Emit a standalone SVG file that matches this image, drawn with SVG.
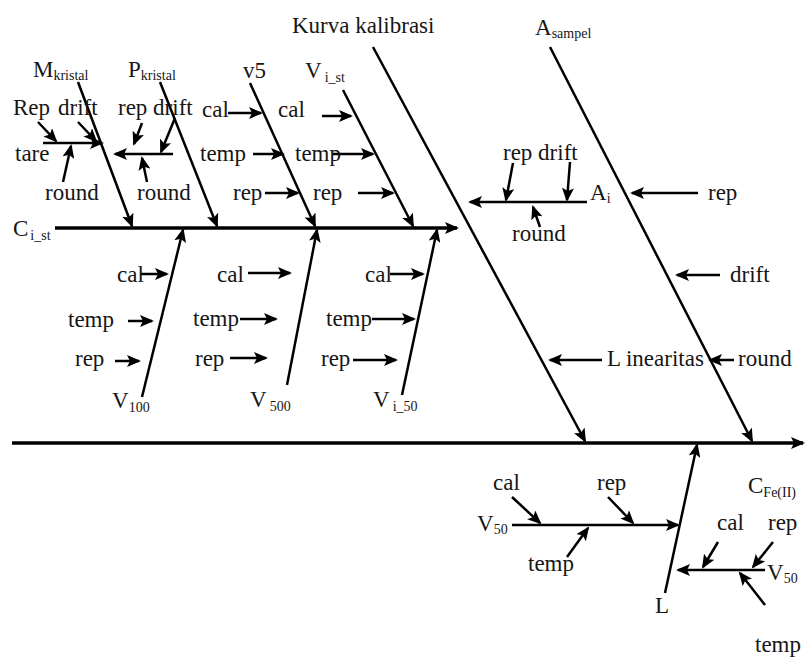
<svg xmlns="http://www.w3.org/2000/svg" width="805" height="657" viewBox="0 0 805 657">
  <style>
    text { font-family: "Liberation Serif", "Times New Roman", serif; fill: #161616; font-size: 23px; }
    .sub { font-size: 14px; }
    .ln { stroke: #000; stroke-width: 2.5; fill: none; }
    .spine { stroke: #000; stroke-width: 3.5; fill: none; }
    .arr { marker-end: url(#head); }
  </style>
  <defs>
    <marker id="head" markerUnits="userSpaceOnUse" markerWidth="14" markerHeight="12" viewBox="0 0 14 12" refX="12" refY="6" orient="auto">
      <path d="M0,0 L14,6 L0,12 L3,6 z" fill="#000"/>
    </marker>
  </defs>
  <rect width="805" height="657" fill="#fff"/>

  <!-- connectors -->
  <g id="connectors">
    <!-- main spine -->
    <line class="spine arr" x1="12" y1="443" x2="803" y2="443"/>
    <!-- major causes into the spine -->
    <line class="ln arr" x1="373" y1="47" x2="585" y2="441"/>
    <line class="ln arr" x1="550" y1="47" x2="752" y2="441"/>
    <line class="ln arr" x1="665" y1="593" x2="697" y2="445"/>

    <!-- C_i_st branch -->
    <line class="spine arr" x1="55" y1="228" x2="457" y2="228"/>
    <line class="ln arr" x1="78" y1="82" x2="132" y2="226"/>
    <line class="ln arr" x1="160" y1="82" x2="217" y2="226"/>
    <line class="ln arr" x1="250" y1="83" x2="315" y2="226"/>
    <line class="ln arr" x1="343" y1="90" x2="413" y2="226"/>
    <line class="ln arr" x1="142" y1="397" x2="183" y2="230"/>
    <line class="ln arr" x1="287" y1="385" x2="317" y2="230"/>
    <line class="ln arr" x1="402" y1="395" x2="437" y2="230"/>

    <!-- M_kristal sub-branch -->
    <line class="ln arr" x1="43" y1="143" x2="102" y2="143"/>
    <line class="ln arr" x1="38" y1="122" x2="56" y2="141"/>
    <line class="ln arr" x1="78" y1="122" x2="96" y2="141"/>
    <line class="ln arr" x1="63" y1="182" x2="71" y2="146"/>

    <!-- P_kristal sub-branch -->
    <line class="ln arr" x1="173" y1="154" x2="115" y2="154"/>
    <line class="ln arr" x1="142" y1="123" x2="134" y2="144"/>
    <line class="ln arr" x1="175" y1="118" x2="161" y2="152"/>
    <line class="ln arr" x1="147" y1="182" x2="142" y2="158"/>

    <!-- v5 inputs -->
    <line class="ln arr" x1="228" y1="113" x2="261" y2="113"/>
    <line class="ln arr" x1="253" y1="154" x2="283" y2="154"/>
    <line class="ln arr" x1="265" y1="193" x2="298" y2="193"/>

    <!-- V_i_st inputs -->
    <line class="ln arr" x1="322" y1="116" x2="351" y2="116"/>
    <line class="ln arr" x1="332" y1="154" x2="373" y2="154"/>
    <line class="ln arr" x1="358" y1="193" x2="393" y2="193"/>

    <!-- V100 inputs -->
    <line class="ln arr" x1="140" y1="274" x2="167" y2="274"/>
    <line class="ln arr" x1="128" y1="321" x2="152" y2="321"/>
    <line class="ln arr" x1="115" y1="361" x2="139" y2="361"/>

    <!-- V500 inputs -->
    <line class="ln arr" x1="248" y1="273" x2="290" y2="273"/>
    <line class="ln arr" x1="240" y1="319" x2="276" y2="319"/>
    <line class="ln arr" x1="230" y1="358" x2="266" y2="358"/>

    <!-- V_i_50 inputs -->
    <line class="ln arr" x1="390" y1="274" x2="423" y2="274"/>
    <line class="ln arr" x1="372" y1="319" x2="414" y2="319"/>
    <line class="ln arr" x1="353" y1="360" x2="396" y2="360"/>

    <!-- A_i sub-branch -->
    <line class="ln arr" x1="587" y1="202" x2="470" y2="202"/>
    <line class="ln arr" x1="513" y1="163" x2="506" y2="200"/>
    <line class="ln arr" x1="570" y1="162" x2="567" y2="200"/>
    <line class="ln arr" x1="540" y1="227" x2="533" y2="207"/>

    <!-- A_sampel inputs -->
    <line class="ln arr" x1="698" y1="193" x2="632" y2="193"/>
    <line class="ln arr" x1="720" y1="275" x2="677" y2="275"/>
    <line class="ln arr" x1="734" y1="360" x2="710" y2="360"/>
    <!-- Linearitas into Kurva kalibrasi -->
    <line class="ln arr" x1="602" y1="360" x2="550" y2="360"/>

    <!-- L: V50 branch (left) -->
    <line class="ln arr" x1="512" y1="525" x2="678" y2="525"/>
    <line class="ln arr" x1="512" y1="497" x2="540" y2="523"/>
    <line class="ln arr" x1="608" y1="497" x2="633" y2="523"/>
    <line class="ln arr" x1="567" y1="557" x2="588" y2="528"/>

    <!-- L: V50 branch (right) -->
    <line class="ln arr" x1="765" y1="570" x2="678" y2="570"/>
    <line class="ln arr" x1="718" y1="542" x2="703" y2="567"/>
    <line class="ln arr" x1="773" y1="542" x2="753" y2="567"/>
    <line class="ln arr" x1="765" y1="605" x2="740" y2="573"/>
  </g>

  <!-- nodes -->
  <g id="kurva"><text x="292" y="33">Kurva kalibrasi</text></g>
  <g id="a-sampel"><text x="535" y="35">A<tspan class="sub" dy="3">sampel</tspan></text></g>
  <g id="m-kristal"><text x="33" y="77">M<tspan class="sub" dy="3">kristal</tspan></text></g>
  <g id="p-kristal"><text x="128" y="77">P<tspan class="sub" dy="3">kristal</tspan></text></g>
  <g id="v5"><text x="243" y="78">v5</text></g>
  <g id="v-i-st"><text x="305" y="78">V<tspan class="sub" dy="4" dx="3">i_st</tspan></text></g>
  <g id="c-i-st"><text x="13" y="236">C<tspan class="sub" dy="4" dx="2">i_st</tspan></text></g>

  <g id="m-causes">
    <text x="13" y="115">Rep</text>
    <text x="58" y="115">drift</text>
    <text x="15" y="161">tare</text>
    <text x="45" y="200">round</text>
  </g>
  <g id="p-causes">
    <text x="118" y="115">rep drift</text>
    <text x="137" y="200">round</text>
  </g>
  <g id="v5-causes">
    <text x="202" y="117">cal</text>
    <text x="200" y="161">temp</text>
    <text x="233" y="200">rep</text>
  </g>
  <g id="v-i-st-causes">
    <text x="278" y="117">cal</text>
    <text x="295" y="161">temp</text>
    <text x="313" y="200">rep</text>
  </g>

  <g id="v100">
    <text x="112" y="408">V<tspan class="sub" dy="4">100</tspan></text>
    <text x="117" y="282">cal</text>
    <text x="68" y="327">temp</text>
    <text x="75" y="366">rep</text>
  </g>
  <g id="v500">
    <text x="250" y="407">V<tspan class="sub" dy="4" dx="3">500</tspan></text>
    <text x="217" y="282">cal</text>
    <text x="193" y="326">temp</text>
    <text x="195" y="366">rep</text>
  </g>
  <g id="v-i-50">
    <text x="373" y="407">V<tspan class="sub" dy="4" dx="3">i_50</tspan></text>
    <text x="365" y="282">cal</text>
    <text x="326" y="326">temp</text>
    <text x="321" y="366">rep</text>
  </g>

  <g id="a-i">
    <text x="590" y="200">A<tspan class="sub" dy="3">i</tspan></text>
    <text x="503" y="160">rep drift</text>
    <text x="512" y="241">round</text>
  </g>
  <g id="a-sampel-causes">
    <text x="708" y="200">rep</text>
    <text x="730" y="282">drift</text>
    <text x="738" y="366">round</text>
  </g>
  <g id="linearitas"><text x="607" y="366">L inearitas</text></g>

  <g id="l">
    <text x="655" y="613">L</text>
    <text x="477" y="531">V<tspan class="sub" dy="3">50</tspan></text>
    <text x="493" y="490">cal</text>
    <text x="597" y="490">rep</text>
    <text x="528" y="571">temp</text>
    <text x="767" y="580">V<tspan class="sub" dy="3">50</tspan></text>
    <text x="717" y="530">cal</text>
    <text x="768" y="530">rep</text>
    <text x="755" y="652">temp</text>
  </g>
  <g id="c-fe"><text x="748" y="493">C<tspan class="sub" dy="4">Fe(II)</tspan></text></g>
</svg>
